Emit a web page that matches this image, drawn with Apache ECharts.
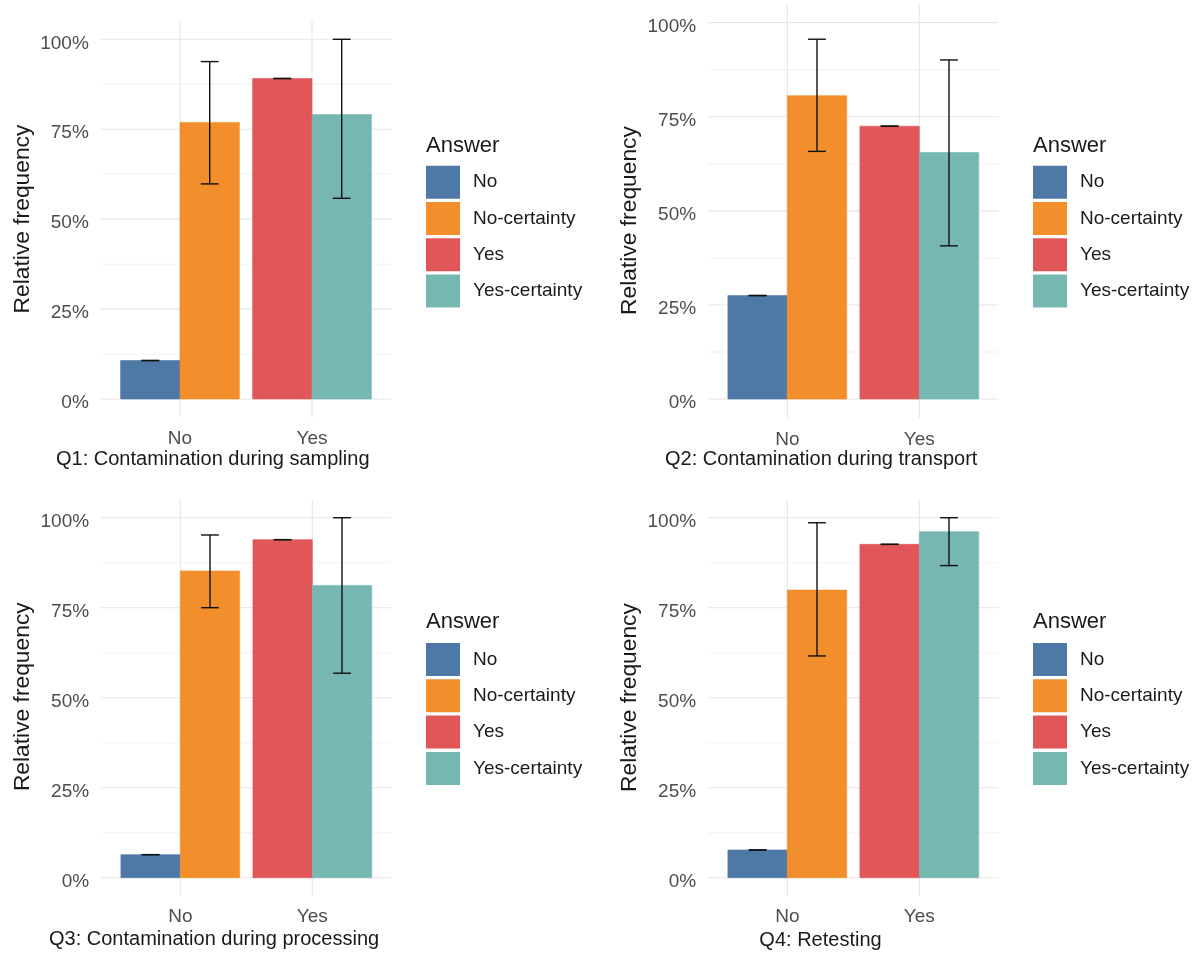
<!DOCTYPE html>
<html>
<head>
<meta charset="utf-8">
<script src="https://cdn.jsdelivr.net/npm/echarts@6/dist/echarts.min.js"></script>
<style>
  html, body { margin: 0; padding: 0; background: #ffffff; }
  #chart { width: 1199px; height: 953px; }
</style>
</head>
<body>
<div id="chart"></div>
<script>
// ---- data ----
const categories = ['No', 'Yes'];
const answers = ['No', 'No-certainty', 'Yes', 'Yes-certainty'];
const answerCategory = ['No', 'No', 'Yes', 'Yes'];   // which x category each answer sits in
const yTicks = [0, 0.25, 0.5, 0.75, 1];
const yGrid = [0, 0.125, 0.25, 0.375, 0.5, 0.625, 0.75, 0.875, 1];
const questionTitles = [
  'Q1: Contamination during sampling',
  'Q2: Contamination during transport',
  'Q3: Contamination during processing',
  'Q4: Retesting'
];

// relative frequency with lower / upper interval per answer
const q1Value = [0.107, 0.769, 0.891, 0.791];
const q1Lower = [0.107, 0.598, 0.891, 0.558];
const q1Upper = [0.107, 0.938, 0.891, 1.000];

const q2Value = [0.275, 0.806, 0.725, 0.655];
const q2Lower = [0.275, 0.658, 0.725, 0.407];
const q2Upper = [0.275, 0.956, 0.725, 0.901];

const q3Value = [0.064, 0.852, 0.939, 0.812];
const q3Lower = [0.064, 0.750, 0.939, 0.568];
const q3Upper = [0.064, 0.952, 0.939, 1.000];

const q4Value = [0.077, 0.799, 0.926, 0.961];
const q4Lower = [0.077, 0.616, 0.926, 0.867];
const q4Upper = [0.077, 0.986, 0.926, 1.000];

const questionData = [
  { value: q1Value, lower: q1Lower, upper: q1Upper },
  { value: q2Value, lower: q2Lower, upper: q2Upper },
  { value: q3Value, lower: q3Lower, upper: q3Upper },
  { value: q4Value, lower: q4Lower, upper: q4Upper }
];

// ---- styling / layout ----
const COLORS = ['#4e79a7', '#f28e2b', '#e15759', '#76b7b2'];
const FONT = "'Liberation Sans', Arial, sans-serif";
const BAR_WIDTH = 0.45;      // each dodged bar, in category units
const CAP_WIDTH = 0.135;     // error bar cap width, in category units

const layout = [
  { grid: { left: 100.8, top: 21.3,  width: 290.4, height: 395.7 }, legendX: 426,  legendY: 165.7, legendTitleY: 145.5,
    xTitle: { x: 56,  y: 459, align: 'left' },   yTitle: { x: 23,  y: 219 } },
  { grid: { left: 708.1, top: 3.85,  width: 290.4, height: 414.0 }, legendX: 1033, legendY: 165.7, legendTitleY: 145.5,
    xTitle: { x: 665, y: 459, align: 'left' },   yTitle: { x: 630, y: 220.5 } },
  { grid: { left: 101.1, top: 499.7, width: 290.4, height: 396.0 }, legendX: 426,  legendY: 643,   legendTitleY: 621.7,
    xTitle: { x: 49,  y: 939.5, align: 'left' }, yTitle: { x: 23,  y: 696.7 } },
  { grid: { left: 708.1, top: 499.7, width: 290.4, height: 396.0 }, legendX: 1033, legendY: 643,   legendTitleY: 621.7,
    xTitle: { x: 820.5, y: 940, align: 'center' }, yTitle: { x: 630, y: 697.5 } }
];

// x position (1-based category) of an answer's bar centre, dodged within its category
function barCenter(i) {
  const cat = categories.indexOf(answerCategory[i]) + 1;
  const inCat = answers.filter((a, j) => answerCategory[j] === answerCategory[i]);
  const k = inCat.indexOf(answers[i]);
  const n = inCat.length;
  return cat - BAR_WIDTH * n / 2 + BAR_WIDTH * (k + 0.5);
}

const grids = [], xAxes = [], yAxes = [], series = [], legends = [], graphics = [];

layout.forEach((L, p) => {
  grids.push(Object.assign({ outerBoundsMode: 'none', containLabel: false }, L.grid));

  xAxes.push({
    type: 'value', gridIndex: p, min: 0.4, max: 2.6,
    axisLine: { show: false }, axisTick: { show: false }, splitLine: { show: false },
    axisLabel: {
      customValues: [1, 2],
      formatter: v => categories[Math.round(v) - 1] || '',
      fontSize: 19, color: '#4d4d4d', fontFamily: FONT, margin: 12
    }
  });

  yAxes.push({
    type: 'value', gridIndex: p, min: -0.05, max: 1.05,
    axisLine: { show: false }, axisTick: { show: false }, splitLine: { show: false },
    axisLabel: {
      customValues: yTicks,
      formatter: v => Math.round(v * 100) + '%',
      fontSize: 19, color: '#4d4d4d', fontFamily: FONT, margin: 12,
      verticalAlign: 'top', lineHeight: 8
    }
  });

  // panel grid: horizontal lines (major + minor) and vertical lines at categories
  series.push({
    type: 'custom', xAxisIndex: p, yAxisIndex: p, silent: true, z: 0,
    data: yGrid.map(v => [1, v]),
    renderItem: (params, api) => {
      const v = api.value(1);
      const cs = params.coordSys;
      const y = api.coord([1, v])[1];
      const major = yTicks.indexOf(v) >= 0;
      return { type: 'line', shape: { x1: cs.x, y1: y, x2: cs.x + cs.width, y2: y },
               style: { stroke: major ? '#e6e6e6' : '#efefef', lineWidth: major ? 1.1 : 0.8 } };
    }
  });
  series.push({
    type: 'custom', xAxisIndex: p, yAxisIndex: p, silent: true, z: 0,
    data: categories.map((c, i) => [i + 1, 0]),
    renderItem: (params, api) => {
      const cs = params.coordSys;
      const x = api.coord([api.value(0), 0])[0];
      return { type: 'line', shape: { x1: x, y1: cs.y, x2: x, y2: cs.y + cs.height },
               style: { stroke: '#e6e6e6', lineWidth: 1.1 } };
    }
  });

  const d = questionData[p];
  // bars, one series per answer
  answers.forEach((name, i) => {
    series.push({
      name: name, type: 'custom', xAxisIndex: p, yAxisIndex: p, z: 2,
      itemStyle: { color: COLORS[i] },
      data: [[barCenter(i), d.value[i]]],
      renderItem: (params, api) => {
        const xc = api.value(0), v = api.value(1);
        const tl = api.coord([xc - BAR_WIDTH / 2, v]);
        const br = api.coord([xc + BAR_WIDTH / 2, 0]);
        const c = api.visual('color');
        return { type: 'rect', shape: { x: tl[0], y: tl[1], width: br[0] - tl[0], height: br[1] - tl[1] },
                 style: { fill: c, stroke: c, lineWidth: 0.6 } };
      }
    });
  });

  // error bars
  series.push({
    type: 'custom', xAxisIndex: p, yAxisIndex: p, silent: true, z: 3,
    data: answers.map((a, i) => [barCenter(i), d.lower[i], d.upper[i]]),
    renderItem: (params, api) => {
      const xc = api.value(0);
      const lo = api.coord([xc, api.value(1)]);
      const hi = api.coord([xc, api.value(2)]);
      const half = (api.coord([xc + CAP_WIDTH / 2, 0])[0] - api.coord([xc, 0])[0]);
      const st = { stroke: '#111111', lineWidth: 1.4 };
      return { type: 'group', children: [
        { type: 'line', shape: { x1: lo[0], y1: lo[1], x2: hi[0], y2: hi[1] }, style: st },
        { type: 'line', shape: { x1: hi[0] - half, y1: hi[1], x2: hi[0] + half, y2: hi[1] }, style: st },
        { type: 'line', shape: { x1: lo[0] - half, y1: lo[1], x2: lo[0] + half, y2: lo[1] }, style: st }
      ] };
    }
  });

  legends.push({
    data: answers, orient: 'vertical', left: L.legendX, top: L.legendY,
    icon: 'rect', itemWidth: 34, itemHeight: 33, itemGap: 3.3, padding: 0,
    selectedMode: false,
    textStyle: { fontSize: 19, color: '#1a1a1a', fontFamily: FONT, padding: [5, 0, 0, 8] }
  });

  graphics.push({
    type: 'text', x: L.legendX, y: L.legendTitleY,
    style: { text: 'Answer', fontSize: 22, fill: '#1a1a1a', fontFamily: FONT, textAlign: 'left', textVerticalAlign: 'middle' }
  });
  graphics.push({
    type: 'text', x: L.xTitle.x, y: L.xTitle.y,
    style: { text: questionTitles[p], fontSize: 20, fill: '#1a1a1a', fontFamily: FONT,
             textAlign: L.xTitle.align, textVerticalAlign: 'middle' }
  });
  graphics.push({
    type: 'text', x: L.yTitle.x, y: L.yTitle.y, rotation: Math.PI / 2,
    style: { text: 'Relative frequency', fontSize: 22.8, fill: '#1a1a1a', fontFamily: FONT,
             textAlign: 'center', textVerticalAlign: 'middle' }
  });
});

const chart = echarts.init(document.getElementById('chart'), null, { renderer: 'canvas' });
chart.setOption({
  animation: false,
  backgroundColor: '#ffffff',
  grid: grids,
  xAxis: xAxes,
  yAxis: yAxes,
  legend: legends,
  series: series,
  graphic: graphics
});
</script>
</body>
</html>
